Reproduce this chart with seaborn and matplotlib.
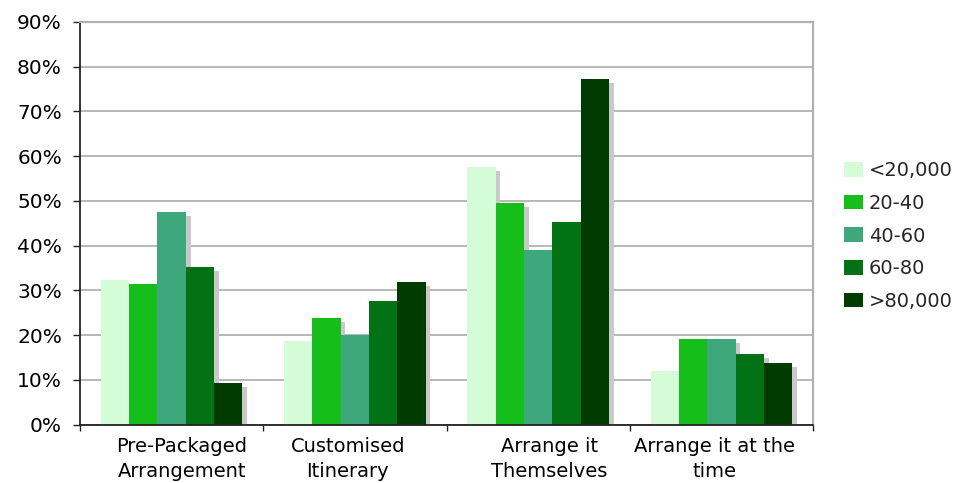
import numpy as np
import pandas as pd
import matplotlib
matplotlib.use("Agg")
import matplotlib.pyplot as plt
import matplotlib.patheffects as pe
from matplotlib.transforms import ScaledTranslation
from matplotlib.ticker import FixedLocator, PercentFormatter
import seaborn as sns

# Travel-arrangement preference by income band (% of respondents)
categories = ["Pre-Packaged\nArrangement", "Customised\nItinerary",
              "Arrange it\nThemselves", "Arrange it at the\ntime"]
income_bands = ["<20,000", "20-40", "40-60", "60-80", ">80,000"]
share_under_20k = [32.4, 18.7, 57.6, 12.0]
share_20_40 = [31.5, 23.9, 49.6, 19.2]
share_40_60 = [47.6, 20.1, 39.1, 19.2]
share_60_80 = [35.3, 27.7, 45.3, 15.8]
share_over_80k = [9.3, 31.9, 77.3, 13.8]
y_ticks = [0, 10, 20, 30, 40, 50, 60, 70, 80, 90]

band_colors = ["#d4fcd6", "#15be1b", "#3ea77b", "#037214", "#003c00"]

series = [share_under_20k, share_20_40, share_40_60, share_60_80, share_over_80k]
df = pd.DataFrame({
    "category": np.tile(categories, len(income_bands)),
    "band": np.repeat(income_bands, len(categories)),
    "share": np.concatenate(series),
})

sns.set_theme(style="white")
plt.rcParams["font.family"] = ["DejaVu Sans"]

fig = plt.figure(figsize=(9.67, 4.83), dpi=100)
ax = fig.add_axes([80 / 967, 58.3 / 483, 733 / 967, 402.7 / 483])

sns.barplot(data=df, x="category", y="share", hue="band",
            order=categories, hue_order=income_bands,
            palette=band_colors, saturation=1, width=0.773,
            linewidth=0, errorbar=None, ax=ax, zorder=3)

# drop shadow behind each bar
shadow = pe.SimplePatchShadow(offset=(3.4, -2.9), shadow_rgbFace="#c9c9c9", alpha=1.0)
for bar in ax.patches:
    bar.set_path_effects([shadow, pe.Normal()])

ax.set_ylim(0, 90)
ax.set_xlim(-0.5, len(categories) - 0.5)
ax.yaxis.set_major_locator(FixedLocator(y_ticks))
ax.yaxis.set_major_formatter(PercentFormatter(decimals=0))
ax.yaxis.grid(True, color="#b8b8b8", linewidth=1.4, zorder=0)
ax.set_axisbelow(True)
ax.set_xlabel("")
ax.set_ylabel("")

for side in ["left", "bottom"]:
    ax.spines[side].set_color("#222222")
    ax.spines[side].set_linewidth(1.3)
for side in ["top", "right"]:
    ax.spines[side].set_color("#b0b0b0")
    ax.spines[side].set_linewidth(1.6)
ax.spines["bottom"].set_zorder(5)

ax.tick_params(axis="y", which="major", left=True, length=5, width=1,
               color="#222222", pad=8, labelsize=14.5, labelcolor="black")
ax.tick_params(axis="x", which="major", length=0, pad=8.5, labelsize=14,
               labelcolor="black")
ax.set_xticks(np.arange(len(categories) + 1) - 0.5, minor=True)
ax.tick_params(axis="x", which="minor", bottom=True, length=4, width=1,
               color="#222222")

# nudge category labels horizontally
label_shift_px = [10, -7, 11, -7]
for lab, dx in zip(ax.get_xticklabels(), label_shift_px):
    lab.set_linespacing(1.4)
    lab.set_transform(lab.get_transform() +
                      ScaledTranslation(dx / 100, 0, fig.dpi_scale_trans))

ax.legend_.remove()
handles = [plt.Rectangle((0, 0), 1, 1, facecolor=c, edgecolor="none") for c in band_colors]
fig.legend(handles, income_bands, loc="center left",
           bbox_to_anchor=(844 / 967, (483 - 236) / 483),
           frameon=False, fontsize=14, handlelength=0.98, handleheight=0.78,
           handletextpad=0.3, labelspacing=0.7, borderpad=0, borderaxespad=0)

fig.savefig("out.png", dpi=100)
